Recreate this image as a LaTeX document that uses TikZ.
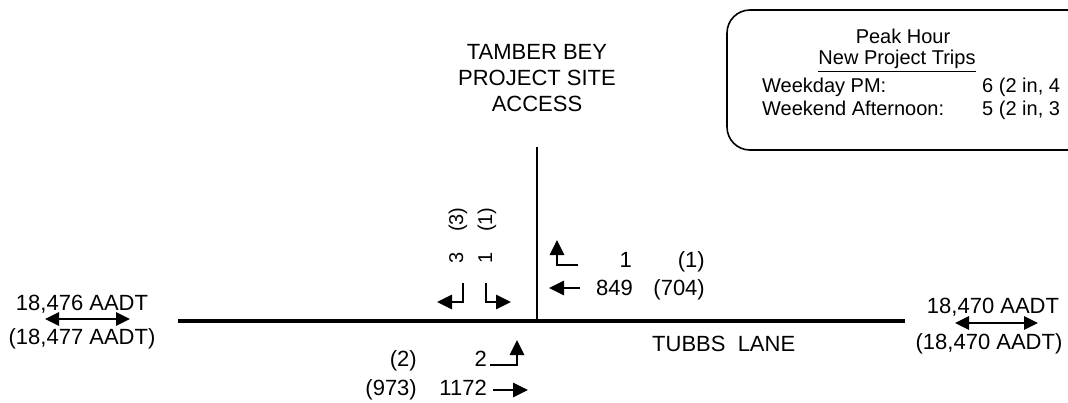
\documentclass[tikz,border=0pt]{standalone}
\usepackage{fontspec}
\setmainfont{Liberation Sans}
\usetikzlibrary{arrows.meta}
\begin{document}
\begin{tikzpicture}[x=1pt,y=-1pt,
  lbl/.style={inner sep=0pt, font=\fontsize{22}{26}\selectfont},
  boxtxt/.style={inner sep=0pt, font=\fontsize{20}{24}\selectfont},
  rot/.style={inner sep=0pt, font=\fontsize{20}{24}\selectfont, rotate=90, anchor=base west},
  road/.style={line width=3.2pt},
  access/.style={line width=2.6pt},
  mv/.style={line width=2.8pt, -{Triangle[length=15pt,width=14pt]}},
  dbl/.style={line width=2.8pt, {Triangle[length=14pt,width=13pt]}-{Triangle[length=14pt,width=13pt]}},
  panel/.style={line width=1.6pt, rounded corners=23pt}]
\useasboundingbox (0,0) rectangle (1068,402);
\clip (0,0) rectangle (1068,402);

% roads
\coordinate (rw) at (178,321);
\coordinate (re) at (905,321);
\coordinate (an) at (537,147);
\coordinate (as) at (537,321);
\draw[road] (rw) -- (re);
\draw[access] (an) -- (as);

% street labels
\node[lbl, anchor=north, align=center] (site) at (537,44) {TAMBER BEY\\PROJECT SITE\\ACCESS};
\node[lbl, anchor=base west] (tubbs) at (652,351) {TUBBS\ \ LANE};

% AADT west
\node[lbl, anchor=base] (lt) at (82,310) {18,476 AADT};
\node[lbl, anchor=base] (lb) at (82,344) {(18,477 AADT)};
\coordinate (la1) at (45,319);
\coordinate (la2) at (130,319);
\draw[dbl] (la1) -- (la2);

% AADT east
\node[lbl, anchor=base] (rt) at (993,313) {18,470 AADT};
\node[lbl, anchor=base] (rb) at (989,349) {(18,470 AADT)};
\coordinate (ra1) at (955,323);
\coordinate (ra2) at (1038,323);
\draw[dbl] (ra1) -- (ra2);

% southbound movements (access)
\node[rot] (sbr) at (463,264) {3};
\node[rot] (sbrp) at (463,232) {(3)};
\node[rot] (sbl) at (492,264) {1};
\node[rot] (sblp) at (492,232) {(1)};
\coordinate (s1a) at (463,283);
\coordinate (s1b) at (463,302);
\coordinate (s1c) at (437,302);
\draw[mv] (s1a) -- (s1b) -- (s1c);
\coordinate (s2a) at (486,283);
\coordinate (s2b) at (486,302);
\coordinate (s2c) at (511,302);
\draw[mv] (s2a) -- (s2b) -- (s2c);

% westbound movements
\coordinate (w1a) at (578,265);
\coordinate (w1b) at (557,265);
\coordinate (w1c) at (557,240);
\draw[mv] (w1a) -- (w1b) -- (w1c);
\coordinate (w2a) at (580,288);
\coordinate (w2b) at (549,288);
\draw[mv] (w2a) -- (w2b);
\node[lbl, anchor=base east] (wbr) at (632,267) {1};
\node[lbl, anchor=base east] (wbrp) at (705,267) {(1)};
\node[lbl, anchor=base east] (wbt) at (633,295) {849};
\node[lbl, anchor=base east] (wbtp) at (705,295) {(704)};

% eastbound movements
\coordinate (e1a) at (490,365);
\coordinate (e1b) at (517,365);
\coordinate (e1c) at (517,340);
\draw[mv] (e1a) -- (e1b) -- (e1c);
\coordinate (e2a) at (493,390);
\coordinate (e2b) at (528,390);
\draw[mv] (e2a) -- (e2b);
\node[lbl, anchor=base east] (ebl) at (487,366) {2};
\node[lbl, anchor=base east] (eblp) at (417,366) {(2)};
\node[lbl, anchor=base east] (ebt) at (487,395) {1172};
\node[lbl, anchor=base east] (ebtp) at (417,395) {(973)};

% trips panel
\draw[panel] (727,10) rectangle (1120,150);
\node[boxtxt, anchor=base] (ph) at (903,43) {Peak Hour};
\node[boxtxt, anchor=base] (np) at (897,64) {New Project Trips};
\draw[line width=1pt] ([yshift=-7pt]np.base west) -- ([yshift=-7pt]np.base east);
\node[boxtxt, anchor=base west] (wd) at (762,92) {Weekday PM:};
\node[boxtxt, anchor=base west] (wdv) at (982,92) {6 (2 in, 4};
\node[boxtxt, anchor=base west] (we) at (762,115) {Weekend Afternoon:};
\node[boxtxt, anchor=base west] (wev) at (982,115) {5 (2 in, 3};
\end{tikzpicture}
\end{document}
